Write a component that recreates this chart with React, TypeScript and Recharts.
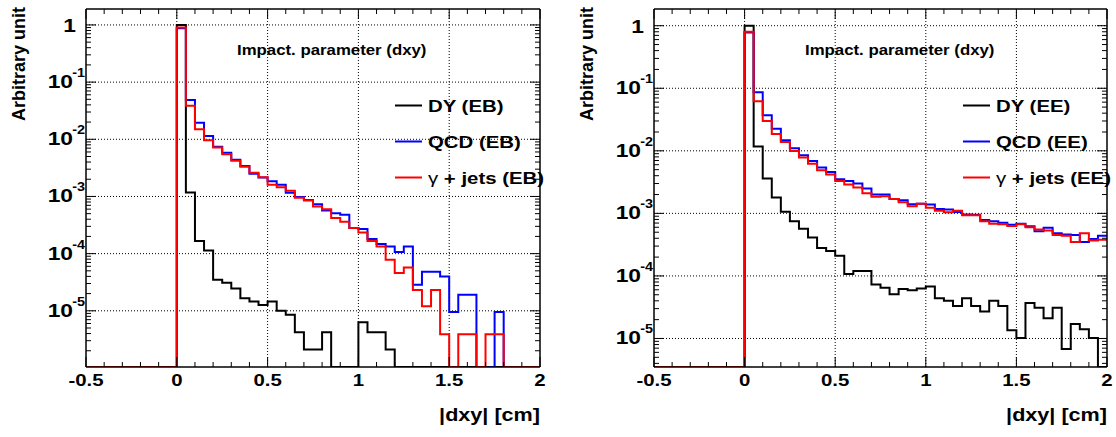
import { LineChart, Line, XAxis, YAxis, ReferenceLine } from "recharts"

// bins are 0.05 cm wide, from 0 to 2 cm (the bins below 0 are empty); 0 = empty bin
const dyEB = [
  1.0, 1.17e-3, 1.67e-4, 1.13e-4, 3.5e-5, 3.1e-5, 2.45e-5, 1.65e-5, 1.45e-5, 1.26e-5,
  1.45e-5, 1.0e-5, 8.5e-6, 4.2e-6, 2.1e-6, 2.1e-6, 4.2e-6, 0, 0, 0,
  6.3e-6, 4.2e-6, 4.2e-6, 2.1e-6, 0, 0, 0, 0, 0, 0,
  0, 0, 0, 0, 0, 0, 0, 0, 0, 0,
]
const qcdEB = [
  0.875, 0.0485, 0.0195, 0.0114, 0.0074, 0.0058, 0.0044, 0.0034, 0.0025, 0.00215,
  0.00185, 0.0016, 0.00116, 0.00098, 0.00087, 0.00073, 0.00057, 0.00051, 0.00048, 0.00028,
  0.00027, 0.00018, 0.000147, 0.000133, 0.000107, 0.000133, 2.85e-5, 4.8e-5, 4.8e-5, 4.0e-5,
  9.5e-6, 1.9e-5, 1.9e-5, 0, 0, 9.5e-6, 0, 0, 0, 0,
]
const gjetsEB = [
  0.9, 0.0386, 0.015, 0.0096, 0.0072, 0.0055, 0.0042, 0.0033, 0.0026, 0.00217,
  0.0016, 0.00145, 0.00126, 0.00095, 0.00085, 0.00067, 0.0006, 0.00042, 0.00036, 0.00028,
  0.000234, 0.000167, 0.000133, 7.8e-5, 4.6e-5, 5.7e-5, 2.3e-5, 1.2e-5, 2.3e-5, 3.9e-6,
  0, 3.9e-6, 3.9e-6, 0, 3.9e-6, 3.9e-6, 0, 0, 0, 0,
]

const dyEE = [
  1.0, 0.0117, 0.0036, 0.0018, 0.00106, 0.00075, 0.00057, 0.00041, 0.00028, 0.00025,
  0.00021, 0.000107, 0.00012, 0.00012, 7.3e-5, 6.5e-5, 5.1e-5, 6.2e-5, 5.9e-5, 6.3e-5,
  6.8e-5, 4.4e-5, 4.0e-5, 3.3e-5, 4.4e-5, 3.3e-5, 2.7e-5, 4.0e-5, 3.3e-5, 1.36e-5,
  1.02e-5, 3.7e-5, 3.1e-5, 2.1e-5, 3.1e-5, 6.8e-6, 1.7e-5, 1.4e-5, 1.02e-5, 0,
]
const qcdEE = [
  0.78, 0.086, 0.037, 0.0225, 0.0147, 0.011, 0.0085, 0.0069, 0.0054, 0.0046,
  0.0035, 0.0033, 0.003, 0.0025, 0.002, 0.002, 0.0017, 0.00162, 0.0014, 0.00142,
  0.00138, 0.00117, 0.00115, 0.00105, 0.00096, 0.00095, 0.00078, 0.00075, 0.00071, 0.00066,
  0.00068, 0.00062, 0.00052, 0.00059, 0.00048, 0.00046, 0.00045, 0.00035, 0.00039, 0.00044,
]
const gjetsEE = [
  0.8, 0.062, 0.03, 0.0186, 0.0138, 0.0099, 0.0078, 0.0062, 0.0049, 0.0042,
  0.0033, 0.0029, 0.0026, 0.0021, 0.00185, 0.00188, 0.0017, 0.0015, 0.0013, 0.00142,
  0.00123, 0.0011, 0.00104, 0.0011, 0.00093, 0.00093, 0.00075, 0.00068, 0.00067, 0.00063,
  0.00067, 0.0006, 0.00055, 0.00053, 0.00045, 0.00044, 0.00035, 0.00048, 0.00037, 0.00038,
]

const namesEB = ["DY (EB)", "QCD (EB)", "+ jets (EB)"]
const namesEE = ["DY (EE)", "QCD (EE)", "+ jets (EE)"]
const colors = ["#000000", "#0000ff", "#ff0000"]

const xMajorTicks = [-0.5, 0, 0.5, 1, 1.5, 2]
const xTickLabels = ["-0.5", "0", "0.5", "1", "1.5", "2"]
const xGrid = [0, 0.5, 1, 1.5]
const yMajorTicks = [1e-5, 1e-4, 1e-3, 1e-2, 1e-1, 1]
const yExponents = [-5, -4, -3, -2, -1, 0]
const minorDecades = [1e-6, 1e-5, 1e-4, 1e-3, 1e-2, 1e-1, 1]

const FONT = "'Liberation Sans', Arial, Helvetica, sans-serif"
const SX = 1.2 // the picture is a bit wider than tall

const xTicks = Array.from({ length: 26 }, (_, i) => (i - 5) / 10)

function logTicks(min: number, max: number) {
  const out: number[] = []
  minorDecades.forEach((d) => {
    for (let m = 1; m <= 9; m++) {
      const v = m === 1 ? d : m * d
      if (v >= min && v <= max) out.push(v)
    }
  })
  return out
}

function histRows(dy: number[], qcd: number[], gj: number[], floor: number) {
  return Array.from({ length: 51 }, (_, i) => {
    const b = Math.min(i, 49) - 10
    const pick = (s: number[]) => (b < 0 || s[b] === 0 ? floor : s[b])
    return { x: (i - 10) / 20, dy: pick(dy), qcd: pick(qcd), gj: pick(gj) }
  })
}

function WideText({ x, y, size, anchor = "start", children }: any) {
  return (
    <text
      transform={`translate(${x},${y}) scale(${SX},1)`}
      textAnchor={anchor}
      fontSize={size}
      fontWeight="bold"
      fontFamily={FONT}
      fill="#000"
    >
      {children}
    </text>
  )
}

const W = 558
const H = 437
const TOP = 9
const BOTTOM = 367

// bottom axis ticks also draw the matching inward ticks on the top edge of the frame
function BottomTick({ x, y, payload }: any) {
  const k = xMajorTicks.indexOf(payload.value)
  const len = k >= 0 ? 10 : 5
  return (
    <g>
      <line x1={x} x2={x} y1={y} y2={y - len} stroke="#000" />
      <line x1={x} x2={x} y1={TOP} y2={TOP + len} stroke="#000" />
      {k >= 0 && (
        <WideText x={x} y={y + 19} size={17} anchor="middle">
          {xTickLabels[k]}
        </WideText>
      )}
    </g>
  )
}

function LeftTick({ x, y, payload }: any) {
  const k = yMajorTicks.indexOf(payload.value)
  return (
    <g>
      <line x1={x} x2={x + (k >= 0 ? 10 : 5)} y1={y} y2={y} stroke="#000" />
      {k >= 0 && yExponents[k] === 0 && (
        <WideText x={x - 10} y={y + 7} size={19} anchor="end">
          1
        </WideText>
      )}
      {k >= 0 && yExponents[k] !== 0 && (
        <>
          <WideText x={x - 13} y={y + 6} size={19} anchor="end">
            10
          </WideText>
          <WideText x={x - 1} y={y - 5} size={12} anchor="end">
            {yExponents[k]}
          </WideText>
        </>
      )}
    </g>
  )
}

function RightTick({ x, y, payload }: any) {
  const major = yMajorTicks.includes(payload.value)
  return <line x1={x} x2={x - (major ? 10 : 5)} y1={y} y2={y} stroke="#000" />
}

function Panel({ left, plotLeft, plotRight, yMin, yMax, series, names }: any) {
  const rows = histRows(series[0], series[1], series[2], yMin)
  const yTicks = logTicks(yMin, yMax)
  const axisLine = { stroke: "#000", strokeWidth: 1.5 }
  const keys = ["dy", "qcd", "gj"]
  // every axis is 1px thick (a 0px axis is not drawn), the margins make up the rest
  return (
    <div style={{ position: "absolute", left, top: 0, width: W, height: H }}>
      <LineChart
        width={W}
        height={H}
        data={rows}
        margin={{ top: TOP - 1, bottom: H - BOTTOM - 1, left: plotLeft - 1, right: W - plotRight - 1 }}
      >
        <XAxis
          xAxisId="b"
          dataKey="x"
          type="number"
          domain={[-0.5, 2]}
          allowDataOverflow
          ticks={xTicks}
          interval={0}
          height={1}
          tickSize={0}
          tickMargin={0}
          tickLine={false}
          axisLine={axisLine}
          tick={(p: any) => <BottomTick {...p} />}
        />
        <XAxis
          xAxisId="t"
          orientation="top"
          dataKey="x"
          type="number"
          domain={[-0.5, 2]}
          allowDataOverflow
          height={1}
          tickLine={false}
          axisLine={axisLine}
          tick={false}
        />
        <YAxis
          yAxisId="l"
          scale="log"
          type="number"
          domain={[yMin, yMax]}
          allowDataOverflow
          ticks={yTicks}
          interval={0}
          width={1}
          tickSize={0}
          tickMargin={0}
          tickLine={false}
          axisLine={axisLine}
          tick={(p: any) => <LeftTick {...p} />}
        />
        <YAxis
          yAxisId="r"
          orientation="right"
          scale="log"
          type="number"
          domain={[yMin, yMax]}
          allowDataOverflow
          ticks={yTicks}
          interval={0}
          width={1}
          tickSize={0}
          tickMargin={0}
          tickLine={false}
          axisLine={axisLine}
          tick={(p: any) => <RightTick {...p} />}
        />
        {xGrid.map((v) => (
          <ReferenceLine key={"x" + v} xAxisId="b" yAxisId="l" x={v} stroke="#000" strokeDasharray="1 2" />
        ))}
        {yMajorTicks.map((v) => (
          <ReferenceLine key={"y" + v} xAxisId="b" yAxisId="l" y={v} stroke="#000" strokeDasharray="1 2" />
        ))}
        {keys.map((k, i) => (
          <Line
            key={k}
            xAxisId="b"
            yAxisId="l"
            dataKey={k}
            type="stepAfter"
            stroke={colors[i]}
            strokeWidth={2}
            dot={false}
            isAnimationActive={false}
          />
        ))}
      </LineChart>
      <svg
        width={W}
        height={H}
        style={{ position: "absolute", left: 0, top: 0, pointerEvents: "none" }}
      >
        <WideText x={plotLeft + 151} y={55} size={14}>
          Impact. parameter (dxy)
        </WideText>
        {names.map((n: string, i: number) => (
          <g key={n}>
            <line
              x1={plotLeft + 309}
              x2={plotLeft + 336}
              y1={105.5 + i * 36}
              y2={105.5 + i * 36}
              stroke={colors[i]}
              strokeWidth={2}
            />
            <WideText x={plotLeft + 342} y={111.5 + i * 36} size={17}>
              {i === 2 && <tspan fontWeight="normal">γ </tspan>}
              {n}
            </WideText>
          </g>
        ))}
        <WideText x={plotRight} y={421} size={18} anchor="end">
          |dxy| [cm]
        </WideText>
        <text
          transform={`translate(${plotLeft - 61},7) rotate(-90)`}
          textAnchor="end"
          fontSize={18}
          fontWeight="bold"
          fontFamily={FONT}
          fill="#000"
        >
          Arbitrary unit
        </text>
      </svg>
    </div>
  )
}

export default function App() {
  return (
    <div style={{ position: "absolute", left: 0, top: 0, width: 1116, height: 437, background: "#fff" }}>
      <Panel
        left={0}
        plotLeft={86}
        plotRight={540}
        yMin={1.04e-6}
        yMax={1.9}
        series={[dyEB, qcdEB, gjetsEB]}
        names={namesEB}
      />
      <Panel
        left={558}
        plotLeft={96}
        plotRight={549}
        yMin={3.5e-6}
        yMax={1.85}
        series={[dyEE, qcdEE, gjetsEE]}
        names={namesEE}
      />
    </div>
  )
}
